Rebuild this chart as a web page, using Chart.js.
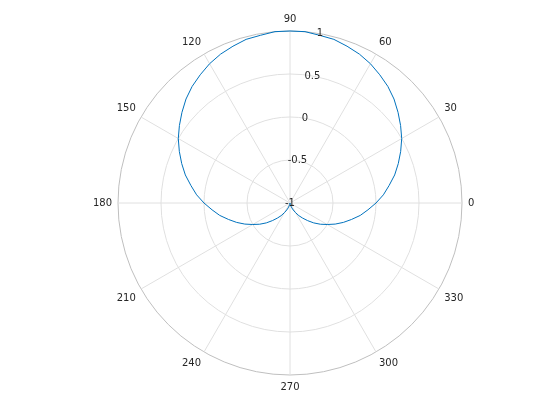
<!DOCTYPE html>
<html>
<head>
<meta charset="utf-8">
<script src="https://cdn.jsdelivr.net/npm/chart.js@4/dist/chart.umd.min.js"></script>
<style>
    html, body { margin: 0; padding: 0; background: #fff; }
    #wrap { width: 560px; height: 420px; }
</style>
</head>
<body>
<div id="wrap"><canvas id="polarChart" width="560" height="420"></canvas></div>
<script>
    // theta in degrees, 5 degree steps
    const thetaDegrees = [
        0, 5, 10, 15, 20, 25, 30, 35, 40, 45, 50, 55, 60, 65, 70, 75, 80, 85,
        90, 95, 100, 105, 110, 115, 120, 125, 130, 135, 140, 145, 150, 155, 160, 165, 170, 175,
        180, 185, 190, 195, 200, 205, 210, 215, 220, 225, 230, 235, 240, 245, 250, 255, 260, 265,
        270, 275, 280, 285, 290, 295, 300, 305, 310, 315, 320, 325, 330, 335, 340, 345, 350, 355
    ];
    const radiusValues = [
        0, 0.09, 0.17, 0.26, 0.34, 0.42, 0.5, 0.57, 0.64, 0.71, 0.77, 0.82, 0.87, 0.91, 0.94, 0.97, 0.98, 1,
        1, 1, 0.98, 0.97, 0.94, 0.91, 0.87, 0.82, 0.77, 0.71, 0.64, 0.57, 0.5, 0.42, 0.34, 0.26, 0.17, 0.09,
        0, -0.09, -0.17, -0.26, -0.34, -0.42, -0.5, -0.57, -0.64, -0.71, -0.77, -0.82, -0.87, -0.91, -0.94, -0.97, -0.98, -1,
        -1, -1, -0.98, -0.97, -0.94, -0.91, -0.87, -0.82, -0.77, -0.71, -0.64, -0.57, -0.5, -0.42, -0.34, -0.26, -0.17, -0.09
    ];
    const radialTicks = [-1, -0.5, 0, 0.5, 1];
    const angleLabelStep = 30;
    const radialLabelAngle = 80;

    const FONT = 'DejaVu Sans';
    const TEXT_COLOR = '#262626';

    // Chart.js radar runs clockwise from the top; reorder so theta runs counter-clockwise from the right
    const step = thetaDegrees[1] - thetaDegrees[0];
    const orderedTheta = thetaDegrees.map((t, i) => ((90 - i * step) % 360 + 360) % 360);
    const orderedRadius = orderedTheta.map(t => radiusValues[thetaDegrees.indexOf(t)]);

    const radialTickLabels = {
        id: 'radialTickLabels',
        afterDatasetsDraw(chart) {
            const scale = chart.scales.r;
            const index = orderedTheta.indexOf(radialLabelAngle);
            const ctx = chart.ctx;
            ctx.save();
            ctx.font = '10px "' + FONT + '"';
            ctx.fillStyle = TEXT_COLOR;
            ctx.textAlign = 'center';
            ctx.textBaseline = 'middle';
            radialTicks.forEach(value => {
                const pos = scale.getPointPositionForValue(index, value);
                ctx.fillText(String(value), pos.x, pos.y);
            });
            ctx.restore();
        }
    };

    new Chart(document.getElementById('polarChart'), {
        type: 'radar',
        data: {
            labels: orderedTheta.map(String),
            datasets: [
                {
                    data: orderedRadius,
                    borderColor: '#0072BD',
                    borderWidth: 1,
                    pointRadius: 0,
                    fill: false,
                    tension: 0
                }
            ]
        },
        options: {
            responsive: false,
            animation: false,
            layout: {
                padding: { top: 13, bottom: 26, left: 20, right: 0 }
            },
            scales: {
                r: {
                    min: -1,
                    max: 1,
                    startAngle: 0,
                    ticks: {
                        display: false,
                        stepSize: 0.5
                    },
                    grid: {
                        circular: true,
                        color: context => context.index === radialTicks.length - 1 ? '#bfbfbf' : '#e0e0e0'
                    },
                    angleLines: {
                        color: context => Number(orderedTheta[context.index]) % angleLabelStep === 0 ? '#e0e0e0' : 'rgba(0,0,0,0)'
                    },
                    pointLabels: {
                        padding: 6,
                        color: TEXT_COLOR,
                        font: { family: FONT, size: 10 },
                        callback: label => Number(label) % angleLabelStep === 0 ? label : ''
                    }
                }
            },
            plugins: {
                legend: { display: false },
                tooltip: { enabled: false }
            }
        },
        plugins: [radialTickLabels]
    });
</script>
</body>
</html>
